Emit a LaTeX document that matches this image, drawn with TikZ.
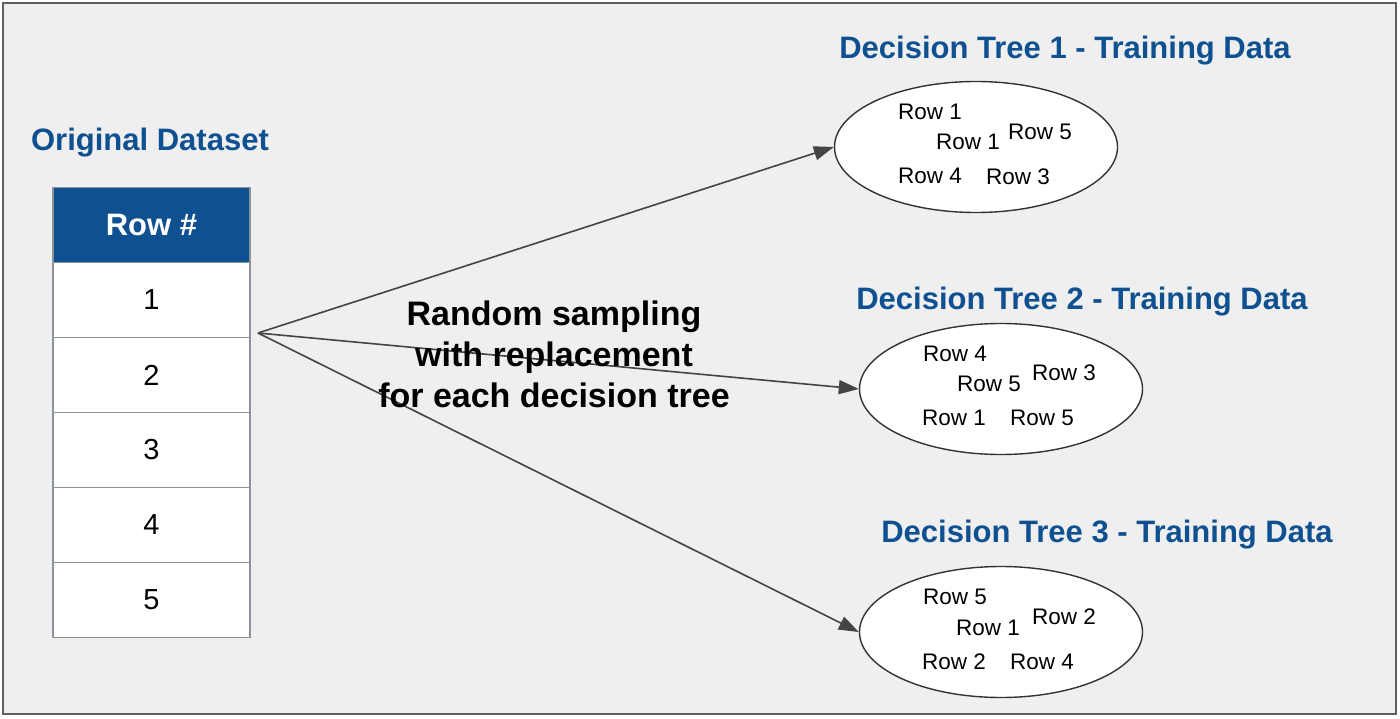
\documentclass[tikz,border=0pt]{standalone}
\usepackage{fontspec}
\setmainfont{Liberation Sans}
\usetikzlibrary{arrows.meta,shapes.geometric}
\definecolor{bg}{HTML}{EFEFEF}
\definecolor{frame}{HTML}{5E6064}
\definecolor{dblue}{HTML}{0F5190}
\definecolor{cellline}{HTML}{8C939B}
\definecolor{arrowc}{HTML}{444444}
\tikzset{
  title/.style={font=\fontsize{31}{36}\selectfont\bfseries, text=dblue, inner sep=0pt},
  cell/.style={draw=cellline, line width=1.2pt, fill=white, minimum width=197pt, minimum height=75pt, inner sep=0pt, font=\fontsize{29}{34}\selectfont},
  headcell/.style={cell, fill=dblue, text=white, font=\fontsize{31}{36}\selectfont\bfseries},
  tree/.style={ellipse, draw=black!80, line width=1.4pt, fill=white, minimum width=283pt, minimum height=131pt, inner sep=0pt},
  rowtxt/.style={font=\fontsize{22.5}{26}\selectfont, inner sep=0pt},
  conn/.style={draw=arrowc, line width=1.6pt, -{Triangle[length=20pt,width=14pt]}},
}
\begin{document}
\begin{tikzpicture}[x=1pt,y=-1pt]
\useasboundingbox (0,0) rectangle (1400,719);
\fill[white] (0,0) rectangle (1400,719);
\draw[frame, line width=2pt, fill=bg] (3,3) rectangle (1396,714);

% table
\node[title] (odtitle) at (150,143) {Original Dataset};
\node[headcell] (h) at (151.5,225) {Row \#};
\node[cell] (r1) at (151.5,300) {1};
\node[cell] (r2) at (151.5,375) {2};
\node[cell] (r3) at (151.5,450) {3};
\node[cell] (r4) at (151.5,525) {4};
\node[cell] (r5) at (151.5,600) {5};

% trees
\node[title] (t1) at (1065,51) {Decision Tree 1 - Training Data};
\node[tree] (e1) at (976,147) {};
\node[rowtxt] (e1a) at (930,112) {Row 1};
\node[rowtxt] (e1b) at (968,142) {Row 1};
\node[rowtxt] (e1c) at (1040,132) {Row 5};
\node[rowtxt] (e1d) at (930,176) {Row 4};
\node[rowtxt] (e1e) at (1018,177) {Row 3};

\node[title] (t2) at (1082,302) {Decision Tree 2 - Training Data};
\node[tree] (e2) at (1001,389) {};
\node[rowtxt] (e2a) at (955,354) {Row 4};
\node[rowtxt] (e2b) at (989,384) {Row 5};
\node[rowtxt] (e2c) at (1064,373) {Row 3};
\node[rowtxt] (e2d) at (954,418) {Row 1};
\node[rowtxt] (e2e) at (1042,418) {Row 5};

\node[title] (t3) at (1107,535) {Decision Tree 3 - Training Data};
\node[tree] (e3) at (1001,632) {};
\node[rowtxt] (e3a) at (955,597) {Row 5};
\node[rowtxt] (e3b) at (988,628) {Row 1};
\node[rowtxt] (e3c) at (1064,617) {Row 2};
\node[rowtxt] (e3d) at (954,662) {Row 2};
\node[rowtxt] (e3e) at (1042,662) {Row 4};

% connectors
\coordinate (src) at (258,333);
\draw[conn] (src) -- (e1.west);
\draw[conn] (src) -- (e2.west);
\draw[conn] (src) -- (e3.west);

\node[font=\fontsize{34}{41}\selectfont\bfseries, align=center, inner sep=0pt] (lbl) at (554,354) {Random sampling\\with replacement\\for each decision tree};
\end{tikzpicture}
\end{document}
